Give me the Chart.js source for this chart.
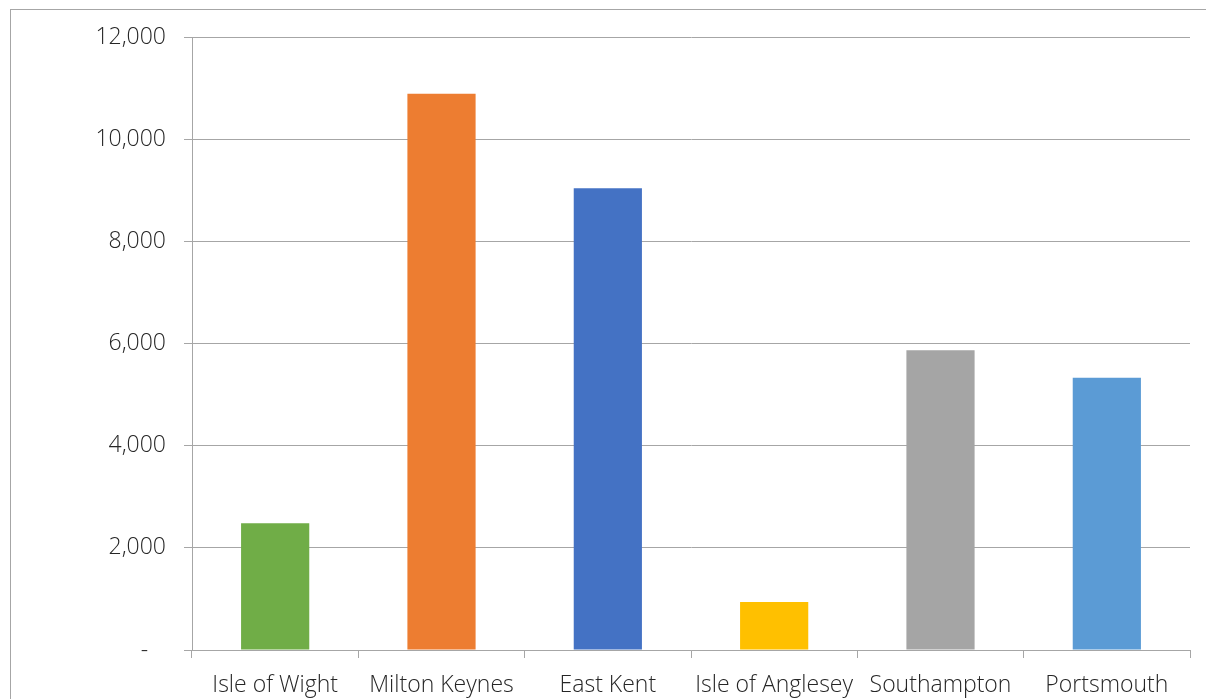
<html>
<head>
<style>
  body{ margin:0; background:#fff; }
  #wrap{ width:1206px; height:699px; }
</style>
</head>
<body>
<div id="wrap"><canvas id="myChart" width="1206" height="699"></canvas></div>
<script src="https://cdn.jsdelivr.net/npm/chart.js@4.4.0/dist/chart.umd.min.js"></script>
<script>
// values
const regions = ['Isle of Wight', 'Milton Keynes', 'East Kent', 'Isle of Anglesey', 'Southampton', 'Portsmouth'];
const counts = [2480, 10890, 9040, 940, 5870, 5330];
const barColours = ['#70AD47', '#ED7D31', '#4472C4', '#FFC000', '#A5A5A5', '#5B9BD5'];
const yMax = 12000;
const yStep = 2000;

// outer chart frame like the spreadsheet one
const frame = {
  id: 'frame',
  beforeDraw(chart){
    const c = chart.ctx;
    c.save();
    c.strokeStyle = '#a6a6a6';
    c.lineWidth = 1;
    c.strokeRect(10.5, 9.5, 1400, 1000);
    c.restore();
  }
};

const tickFont = { family: 'Open Sans', size: 23, weight: 300 };

const ctx = document.getElementById('myChart').getContext('2d');
const myChart = new Chart(ctx, {
  type: 'bar',
  data: {
    labels: regions,
    datasets: [{
      data: counts,
      backgroundColor: barColours,
      borderWidth: 0,
      barPercentage: 0.41,
      categoryPercentage: 1
    }]
  },
  options: {
    responsive: false,
    animation: false,
    layout: { padding: { top: 37, right: 16, bottom: 0, left: 0 } },
    plugins: { legend: { display: false }, tooltip: { enabled: false } },
    scales: {
      x: {
        offset: true,
        afterFit: s => { s.height = 49; },
        border: { color: '#a6a6a6' },
        grid: { offset: true, drawOnChartArea: false, drawTicks: true, tickLength: 8, color: '#a6a6a6' },
        ticks: { color: '#262626', padding: 14, maxRotation: 0, autoSkip: false, font: tickFont }
      },
      y: {
        min: 0,
        max: yMax,
        afterFit: s => { s.width = 192; },
        border: { color: '#a6a6a6' },
        grid: { color: '#a6a6a6', tickLength: 8 },
        ticks: {
          stepSize: yStep,
          color: '#262626',
          padding: 18,
          font: tickFont,
          callback: v => v === 0 ? '-   ' : v.toLocaleString('en-US')
        }
      }
    }
  },
  plugins: [frame]
});
</script>
</body>
</html>
